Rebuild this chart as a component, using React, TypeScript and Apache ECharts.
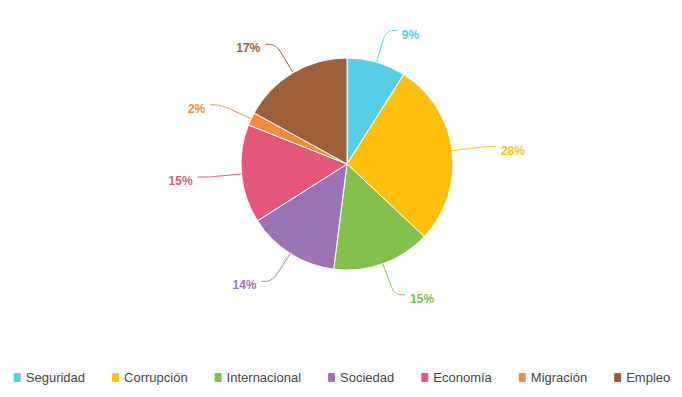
import React, { useEffect, useRef } from "react";
import * as echarts from "echarts";

const categories = ["Seguridad", "Corrupción", "Internacional", "Sociedad", "Economía", "Migración", "Empleo"];
const values = [9, 28, 15, 14, 15, 2, 17];
const colors = ["#57CEE8", "#FFBF0A", "#80C04B", "#9D73B5", "#E4577A", "#F78A3A", "#9C5F39"];

const FONT = "'Liberation Sans', Arial, sans-serif";

export default function App() {
  const ref = useRef<HTMLDivElement>(null);
  useEffect(() => {
    const chart = echarts.init(ref.current!, null, { renderer: "svg" });
    chart.setOption({
      animation: false,
      color: colors,
      legend: {
        bottom: 8,
        left: "center",
        itemWidth: 9,
        itemHeight: 11,
        itemGap: 25,
        icon: "roundRect",
        textStyle: { fontFamily: FONT, fontSize: 13, color: "#444", padding: [0, 0, 0, -1] },
        data: categories,
      },
      series: [
        {
          type: "pie",
          center: [347, 164],
          radius: [0, 106],
          startAngle: 90,
          clockwise: true,
          avoidLabelOverlap: true,
          itemStyle: { borderColor: "#fff", borderWidth: 1 },
          label: {
            show: true,
            formatter: "{d}%",
            fontFamily: FONT,
            fontSize: 12,
            fontWeight: "bold",
            color: "inherit",
          },
          labelLayout: { dy: 4 },
          labelLine: { show: true, smooth: 0.4, length: 33, length2: 11, lineStyle: { width: 1 } },
          data: categories.map((name, i) => ({ name, value: values[i] })),
        },
      ],
    });
    return () => chart.dispose();
  }, []);
  return <div ref={ref} style={{ width: 682, height: 397, position: "absolute", left: 0, top: 0 }} />;
}
